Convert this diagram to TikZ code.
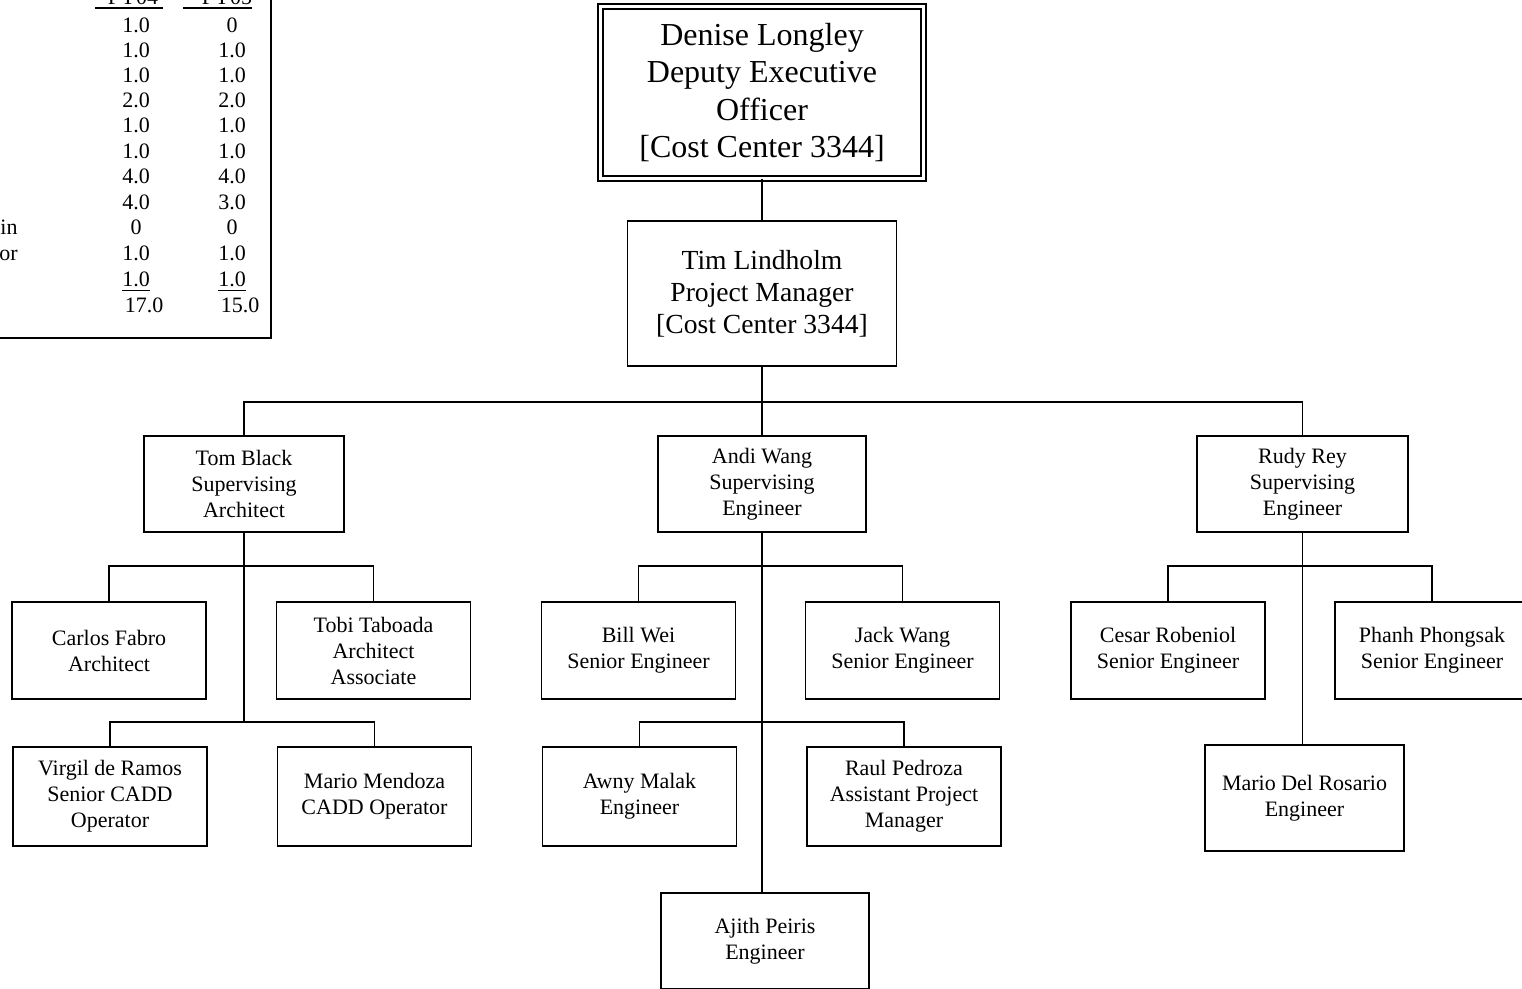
\documentclass[tikz,border=0pt]{standalone}
\usepackage{fontspec}
\setmainfont{Liberation Serif}
\usetikzlibrary{positioning}

\begin{document}
\begin{tikzpicture}[x=0.5pt, y=-0.5pt,
    staff/.style={draw, line width=0.9pt, align=center, inner sep=2pt,
      font=\fontsize{11}{13}\selectfont},
    super/.style={staff, minimum width=104pt, minimum height=48pt},
    eng/.style={staff, minimum width=97pt, minimum height=48.5pt},
    link/.style={line width=0.9pt},
    num/.style={anchor=base, inner sep=0pt, font=\fontsize{11}{12}\selectfont}]
    \useasboundingbox (0,0) rectangle (1522,989);

    % Staffing table (cut off at the corner)
    \draw[link] (-10,-10) -- (271,-10) -- (271,338) -- (-10,338);
    \node[num] at (133,5) {FY04};
    \node[num] at (227,5) {FY05};
    \draw[link] (95,8) -- (163,8);
    \draw[link] (183,8) -- (252,8);
    \foreach \y/\a/\b in {33/1.0/0, 58/1.0/1.0, 83/1.0/1.0, 108/2.0/2.0, 133/1.0/1.0,
        159/1.0/1.0, 184/4.0/4.0, 210/4.0/3.0, 235/0/0, 261/1.0/1.0} {
      \node[num] at (136,\y) {\a};
      \node[num] at (232,\y) {\b};
    }
    \node[num] at (136,287) {\underline{1.0}};
    \node[num] at (232,287) {\underline{1.0}};
    \node[num] at (144,313) {17.0};
    \node[num] at (240,313) {15.0};
    \node[num, anchor=base east] at (18,235) {in};
    \node[num, anchor=base east] at (18,261) {or};

    % Top of the chart
    \node[draw, double, double distance=1.6pt, line width=0.9pt, align=center,
      minimum width=161.5pt, minimum height=86pt,
      font=\fontsize{16}{18.75}\selectfont] (dl) at (762,92.5)
      {Denise Longley\\Deputy Executive\\Officer\\{[}Cost Center 3344{]}};
    \node[staff, minimum width=134.5pt, minimum height=72.5pt,
      font=\fontsize{13.8}{16}\selectfont] (tim) at (762,293.5)
      {Tim Lindholm\\Project Manager\\{[}Cost Center 3344{]}};
    \draw[link] (dl.south) -- (tim.north);

    % Supervisors
    \node[super, minimum width=100pt] (tom) at (244,484) {Tom Black\\Supervising\\Architect};
    \node[super] (andi) at (762,484) {Andi Wang\\Supervising\\Engineer};
    \node[super, minimum width=105.5pt] (rudy) at (1302.5,484) {Rudy Rey\\Supervising\\Engineer};
    \draw[link] (tim.south) -- (andi.north);
    \draw[link] (tim.south) -- ++(0,35) -| (tom.north);
    \draw[link] (tim.south) -- ++(0,35) -| (rudy.north);

    % Architecture group
    \node[eng] (carlos) at (109,650.5) {Carlos Fabro\\Architect};
    \node[eng] (tobi) at (373.5,650.5) {Tobi Taboada\\Architect\\Associate};
    \node[eng, minimum height=49.5pt] (virgil) at (110,796.5) {Virgil de Ramos\\Senior CADD\\Operator};
    \node[eng, minimum height=49.5pt] (mendoza) at (374.5,796.5) {Mario Mendoza\\CADD Operator};
    \draw[link] (tom.south) -- (tom.south |- 0,723);
    \draw[link] (carlos.north) -- ++(0,-35) -| (tobi.north);
    \draw[link] (virgil.north) -- ++(0,-24) -| (mendoza.north);

    % Engineering group
    \node[eng] (bill) at (638.5,650.5) {Bill Wei\\Senior Engineer};
    \node[eng] (jack) at (902.5,650.5) {Jack Wang\\Senior Engineer};
    \node[eng, minimum height=49.5pt] (awny) at (639.5,796.5) {Awny Malak\\Engineer};
    \node[eng, minimum height=49.5pt] (raul) at (904,796.5) {Raul Pedroza\\Assistant Project\\Manager};
    \node[super, minimum height=48pt] (ajith) at (765,941) {Ajith Peiris\\Engineer};
    \draw[link] (andi.south) -- (andi.south |- ajith.north);
    \draw[link] (bill.north) -- ++(0,-35) -| (jack.north);
    \draw[link] (awny.north) -- ++(0,-24) -| (raul.north);

    % Second engineering group
    \node[eng] (cesar) at (1168,650.5) {Cesar Robeniol\\Senior Engineer};
    \node[eng] (phanh) at (1432,650.5) {Phanh Phongsak\\Senior Engineer};
    \node[eng, minimum width=99.5pt, minimum height=53pt] (rosario) at (1304.5,798) {Mario Del Rosario\\Engineer};
    \draw[link] (rudy.south) -- (rudy.south |- rosario.north);
    \draw[link] (cesar.north) -- ++(0,-35) -| (phanh.north);
\end{tikzpicture}
\end{document}
